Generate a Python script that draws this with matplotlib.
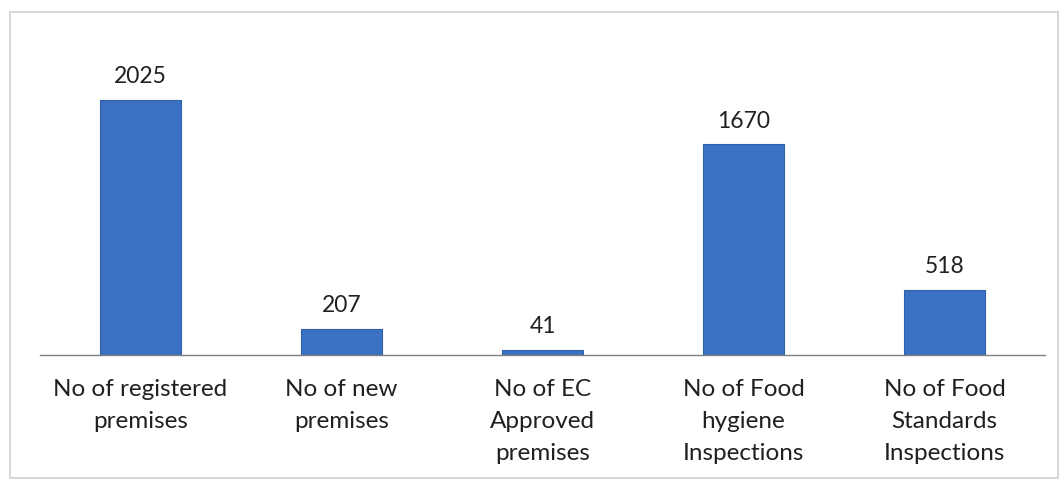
import matplotlib.pyplot as plt
from matplotlib.patches import Rectangle

# Data
categories = [
    'No of registered\npremises',
    'No of new\npremises',
    'No of EC\nApproved\npremises',
    'No of Food\nhygiene\nInspections',
    'No of Food\nStandards\nInspections',
]
values = [2025, 207, 41, 1670, 518]

bar_color = '#3b71c3'

fig = plt.figure(figsize=(10.61, 4.84), dpi=100)
ax = fig.add_axes([40 / 1061, 129 / 484, 1005 / 1061, 290 / 484])

# light frame around the whole chart
fig.patches.append(Rectangle((10 / 1061, 6 / 484), 1048 / 1061, 466 / 484,
                             transform=fig.transFigure, fill=False,
                             edgecolor='#d0d0d0', linewidth=1.2))

x = range(len(categories))
bars = ax.bar(x, values, width=0.4, color=bar_color, edgecolor='#2f5fa8', linewidth=0.8)

for b, v in zip(bars, values):
    ax.annotate(str(v), (b.get_x() + b.get_width() / 2, v),
                xytext=(0, 9), textcoords='offset points',
                ha='center', va='bottom', fontsize=16.5, family='Lato', color='#202020')

ax.set_xlim(-0.5, len(categories) - 0.5)
ax.set_ylim(0, 2300)
ax.set_xticks(list(x))
ax.set_xticklabels(categories, fontsize=17.5, family='Lato', color='#202020', linespacing=1.65)
ax.tick_params(axis='x', length=0, pad=17)
ax.set_yticks([])

for side in ['top', 'right', 'left']:
    ax.spines[side].set_visible(False)
ax.spines['bottom'].set_color('#808080')
ax.spines['bottom'].set_linewidth(1.0)

fig.savefig('out.png', dpi=100)
